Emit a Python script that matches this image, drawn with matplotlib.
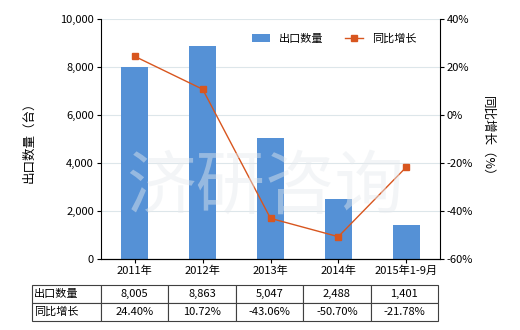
import numpy as np
import matplotlib
matplotlib.use('Agg')
import matplotlib.pyplot as plt

plt.rcParams['font.family'] = ['Noto Sans CJK SC', 'DejaVu Sans']
plt.rcParams['font.size'] = 8

# data
years = ['2011年', '2012年', '2013年', '2014年', '2015年1-9月']
qty = [8005, 8863, 5047, 2488, 1401]
growth = [24.40, 10.72, -43.06, -50.70, -21.78]
qty_labels = ['8,005', '8,863', '5,047', '2,488', '1,401']
growth_labels = ['24.40%', '10.72%', '-43.06%', '-50.70%', '-21.78%']

bar_c = '#5591d6'
line_c = '#d8561f'

fig = plt.figure(figsize=(5.2, 3.3), dpi=100)
ax = fig.add_axes([101/520, 1-259/330, (440-101)/520, (259-19)/330])
x = np.arange(len(years))
ax.bar(x, qty, width=0.4, color=bar_c, label='出口数量', zorder=2)
ax.set_ylim(0, 10000)
ax.set_xlim(-0.5, len(years)-0.5)
ax.set_yticks(np.arange(0, 10001, 2000))
ax.set_yticklabels(['{:,}'.format(v) for v in range(0, 10001, 2000)])
ax.set_xticks(x)
ax.set_xticklabels(years)
ax.grid(axis='y', color='#dde6ea', lw=0.8, zorder=0)
for s in ['top', 'right']:
    ax.spines[s].set_visible(False)
ax.tick_params(axis='both', length=3, pad=2)
ax.set_ylabel('出口数量（台）', fontsize=9, labelpad=18)

ax2 = ax.twinx()
ax2.plot(x, growth, color=line_c, marker='s', ms=4, lw=1, label='同比增长', zorder=3)
ax2.set_ylim(-60, 40)
ax2.set_yticks(np.arange(-60, 41, 20))
ax2.set_yticklabels(['{}%'.format(v) for v in range(-60, 41, 20)])
for s in ['top', 'left']:
    ax2.spines[s].set_visible(False)
ax2.tick_params(axis='y', length=3, pad=2)
ax2.set_ylabel('同比增长（%）', fontsize=9, rotation=-90, labelpad=15)

h1, l1 = ax.get_legend_handles_labels()
h2, l2 = ax2.get_legend_handles_labels()
ax.legend(h1 + h2, l1 + l2, loc='upper right', bbox_to_anchor=(0.96, 0.98),
          ncol=2, frameon=False, fontsize=8, handlelength=1.6, columnspacing=2.0)

# watermark
fig.text(0.51, 0.43, '济研咨询', fontsize=50, color='#e6eaee', alpha=0.45,
         ha='center', va='center', zorder=0)

# table
tab = fig.add_axes([32/520, 1-321/330, (438-32)/520, 36/330])
tab.axis('off')
cells = [['出口数量'] + qty_labels, ['同比增长'] + growth_labels]
w0 = (101-32)/406
wc = (1 - w0)/5
t = tab.table(cellText=cells, cellLoc='center', bbox=[0, 0, 1, 1],
              colWidths=[w0] + [wc]*5)
t.auto_set_font_size(False)
t.set_fontsize(8)
for (r, c), cell in t.get_celld().items():
    cell.set_edgecolor('#404040')
    cell.set_linewidth(0.8)
    if c == 0:
        cell.get_text().set_ha('left')
        cell.PAD = 0.03

fig.savefig('out.png', dpi=100)
